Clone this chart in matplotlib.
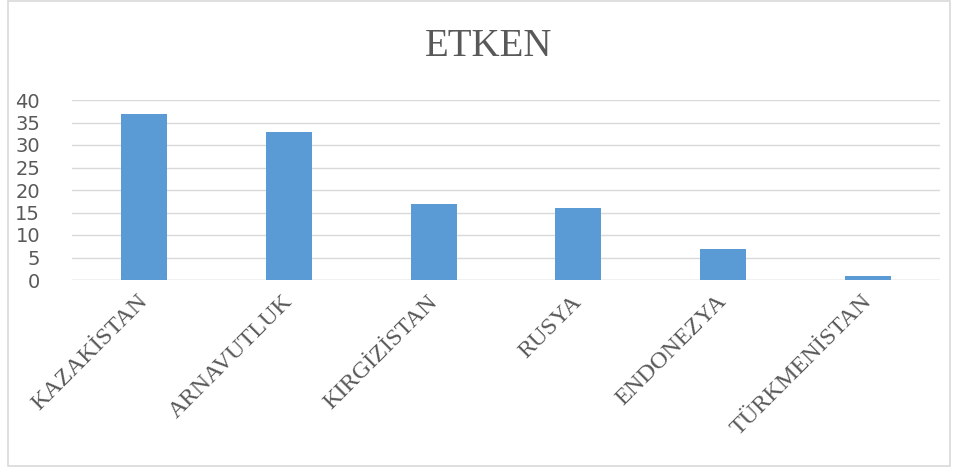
import matplotlib
matplotlib.use("Agg")
import matplotlib.pyplot as plt
from matplotlib.patches import Rectangle
from matplotlib.transforms import ScaledTranslation

# ── Data ─────────────────────────────────────────────
countries = ["KAZAKİSTAN", "ARNAVUTLUK", "KIRGİZİSTAN",
             "RUSYA", "ENDONEZYA", "TÜRKMENİSTAN"]
counts = [37, 33, 17, 16, 7, 1]
yticks = [0, 5, 10, 15, 20, 25, 30, 35, 40]

BAR = "#5b9bd5"
GRID = "#d9d9d9"
TXT = "#595959"

fig = plt.figure(figsize=(9.6, 4.72), dpi=100)
fig.patch.set_facecolor("white")

# chart frame
fig.add_artist(Rectangle((8 / 960, 6 / 472), 942 / 960, 465 / 472,
                         transform=fig.transFigure, fill=False,
                         edgecolor=GRID, linewidth=1.2))

ax = fig.add_axes([72 / 960, 1 - 280 / 472, 868 / 960, 180 / 472])
x = range(len(countries))
ax.bar(x, counts, width=0.32, color=BAR, zorder=3)
ax.set_xlim(-0.5, len(countries) - 0.5)
ax.set_ylim(0, 40)
ax.set_yticks(yticks)
ax.set_yticklabels([str(v) for v in yticks], fontsize=14, color=TXT,
                   family="DejaVu Sans")
ax.grid(True, axis="y", color=GRID, linewidth=1, zorder=0)
ax.tick_params(axis="y", length=0, pad=23)
ax.tick_params(axis="x", length=0, pad=8)
for s in ax.spines.values():
    s.set_visible(False)
ax.axhline(0, color=GRID, linewidth=1, zorder=2)

ax.set_xticks(list(x))
ax.set_xticklabels(countries, rotation=45, ha="right", va="top",
                   rotation_mode="anchor", fontsize=17.5, color=TXT,
                   family="Liberation Serif")
# nudge the slanted labels a little to the left
shift = ScaledTranslation(-7 / 100, 0, fig.dpi_scale_trans)
for lbl in ax.get_xticklabels():
    lbl.set_transform(lbl.get_transform() + shift)

fig.text(489 / 960, 1 - 46 / 472, "ETKEN", ha="center", va="center",
         fontsize=28, color=TXT, family="Liberation Serif")

fig.savefig("out.png", dpi=100, facecolor="white")
